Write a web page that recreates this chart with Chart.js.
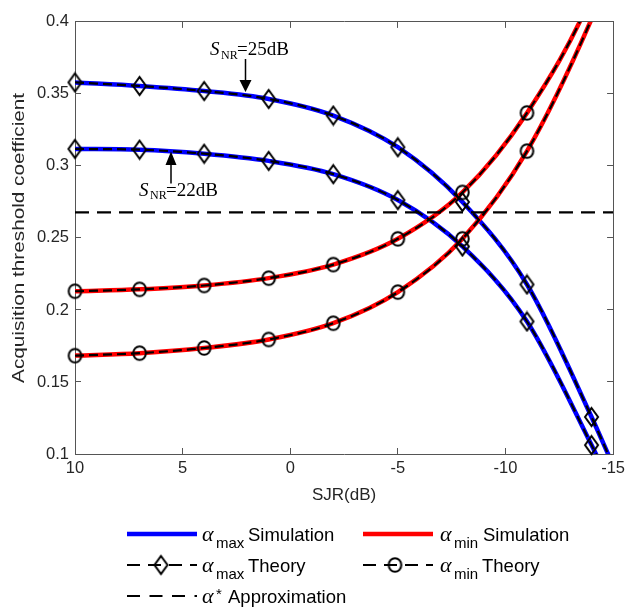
<!DOCTYPE html>
<html lang="en">
<head>
  <meta charset="UTF-8" />
  <title>Acquisition threshold coefficient vs SJR</title>
  <script src="https://cdn.jsdelivr.net/npm/chart.js"></script>
  <style>
body {
  margin: 0;
  background: #ffffff;
}
canvas {
  display: block;
}
  </style>
</head>
<body>
<canvas id="grafico" width="636" height="607"></canvas>

<script>
// SJR sample points (dB); -15 only carries the curves to the axis edge
const sjrDb = [10, 7, 4, 1, -2, -5, -8, -11, -14, -15];

// alpha_max (blue / diamonds) for S_NR = 25 dB and 22 dB
const alphaMax25 = [0.358, 0.3555, 0.352, 0.3465, 0.335, 0.313, 0.275, 0.2177, 0.1257, 0.092];
const alphaMax22 = [0.3118, 0.3113, 0.3085, 0.3035, 0.2943, 0.2763, 0.2441, 0.192, 0.1062, 0.075];

// alpha_min (red / circles)
const alphaMin25 = [0.213, 0.2143, 0.217, 0.2221, 0.2315, 0.2494, 0.2816, 0.3368, 0.418, 0.46];
const alphaMin22 = [0.1683, 0.170, 0.1736, 0.1795, 0.1908, 0.2124, 0.2494, 0.3103, 0.402, 0.44];

// alpha* approximation (horizontal line)
const alphaStar = 0.2678;
const starX = [10, -15];

const xTicks = [10, 5, 0, -5, -10, -15];
const yTicks = [0.1, 0.15, 0.2, 0.25, 0.3, 0.35, 0.4];

const SANS = '"Liberation Sans", Arial, sans-serif';
const SERIF = '"Liberation Serif", "Times New Roman", serif';
const AXIS_COLOR = '#555555';
const TEXT_COLOR = '#262626';

const pts = (vals) => sjrDb.map((x, i) => ({ x, y: vals[i] }));

// marker images (MATLAB-like diamond and circle, hollow)
function makeDiamond() {
  const c = document.createElement('canvas');
  c.width = 17; c.height = 22;
  const g = c.getContext('2d');
  g.strokeStyle = '#000'; g.lineWidth = 2;
  g.beginPath();
  g.moveTo(8.5, 2); g.lineTo(15, 11); g.lineTo(8.5, 20); g.lineTo(2, 11);
  g.closePath(); g.stroke();
  return c;
}
function makeCircle() {
  const c = document.createElement('canvas');
  c.width = 17; c.height = 18;
  const g = c.getContext('2d');
  g.strokeStyle = '#000'; g.lineWidth = 2;
  g.beginPath();
  g.ellipse(8.5, 9, 6.3, 6.8, 0, 0, Math.PI * 2);
  g.stroke();
  return c;
}
const diamondImg = makeDiamond();
const circleImg = makeCircle();

// markers only on theory points that fall inside the axes
const markerRadius = (c) => {
  const v = c.raw ? c.raw.y : NaN;
  return (c.dataIndex < sjrDb.length - 1 && v >= 0.1 && v <= 0.4) ? 7 : 0;
};

function simLine(vals, color) {
  return {
    data: pts(vals),
    borderColor: color,
    borderWidth: 4.5,
    pointRadius: 0,
    cubicInterpolationMode: 'monotone',
    capBezierPoints: false,
    clip: 0
  };
}
function theoryLine(vals) {
  return {
    data: pts(vals),
    borderColor: '#000000',
    borderWidth: 2.2,
    borderDash: [9, 5],
    pointRadius: 0,
    cubicInterpolationMode: 'monotone',
    capBezierPoints: false,
    clip: 0
  };
}
function markerSet(vals, img) {
  return {
    data: pts(vals),
    showLine: false,
    pointStyle: img,
    pointRadius: markerRadius,
    clip: false
  };
}

// box edges and inward ticks come from the scales themselves
const gridIn = {
  display: true,
  drawOnChartArea: false,
  drawTicks: true,
  tickLength: -6,
  color: AXIS_COLOR,
  tickColor: AXIS_COLOR,
  lineWidth: 1
};
const borderOn = { display: true, color: AXIS_COLOR, width: 1 };

function dibujarTextos(chart) {
  const ctx = chart.ctx;
  const a = chart.chartArea;
  ctx.save();
  ctx.fillStyle = TEXT_COLOR;

  // x title
  ctx.font = '17px ' + SANS;
  ctx.textAlign = 'center';
  ctx.textBaseline = 'middle';
  ctx.fillText('SJR(dB)', (a.left + a.right) / 2, 495);

  // y title (stretched to the reference length)
  ctx.save();
  ctx.translate(19, (a.top + a.bottom) / 2);
  ctx.rotate(-Math.PI / 2);
  const yt = 'Acquisition threshold coefficient';
  const w = ctx.measureText(yt).width;
  ctx.scale(290 / w, 1);
  ctx.fillText(yt, 0, 0);
  ctx.restore();

  // S_NR annotations with arrows
  ctx.fillStyle = '#000';
  ctx.textAlign = 'left';
  ctx.textBaseline = 'alphabetic';
  const snr = (x0, base, txt) => {
    ctx.font = 'italic 19px ' + SERIF;
    ctx.fillText('S', x0, base);
    ctx.font = '12px ' + SERIF;
    ctx.fillText('NR', x0 + 11, base + 3.5);
    ctx.font = '19px ' + SERIF;
    ctx.fillText(txt, x0 + 27, base);
  };
  snr(210, 55, '=25dB');
  snr(139, 195.5, '=22dB');

  ctx.strokeStyle = '#000';
  ctx.lineWidth = 1.5;
  ctx.beginPath();
  ctx.moveTo(245.5, 59); ctx.lineTo(245.5, 81);
  ctx.moveTo(171, 164); ctx.lineTo(171, 183.5);
  ctx.stroke();
  ctx.beginPath();
  ctx.moveTo(239.5, 80); ctx.lineTo(251.5, 80); ctx.lineTo(245.5, 92);
  ctx.closePath();
  ctx.moveTo(165.5, 165); ctx.lineTo(176.5, 165); ctx.lineTo(171, 151.5);
  ctx.closePath();
  ctx.fill();

  // legend
  const rows = [534, 565, 596];
  const alphaLabel = (x0, yc, sub, star, rest, restX) => {
    ctx.fillStyle = '#000';
    ctx.font = 'italic 22px ' + SERIF;
    ctx.fillText('\u03b1', x0, yc + 6.5);
    ctx.font = '15px ' + SANS;
    if (star) {
      ctx.fillText('*', x0 + 14, yc + 3);
    } else {
      ctx.fillText(sub, x0 + 14, yc + 14);
    }
    ctx.font = '18.5px ' + SANS;
    ctx.fillText(rest, restX, yc + 6.5);
  };
  const seg = (x1, x2, yc, color, lw, dash) => {
    ctx.save();
    ctx.strokeStyle = color;
    ctx.lineWidth = lw;
    ctx.setLineDash(dash);
    ctx.beginPath();
    ctx.moveTo(x1, yc); ctx.lineTo(x2, yc);
    ctx.stroke();
    ctx.restore();
  };

  seg(127, 197, rows[0], '#0000ff', 4.5, []);
  alphaLabel(202, rows[0], 'max', false, 'Simulation', 248);
  seg(363, 433, rows[0], '#ff0000', 4.5, []);
  alphaLabel(440, rows[0], 'min', false, 'Simulation', 483);

  seg(127, 197, rows[1], '#000', 2.2, [13, 8]);
  ctx.drawImage(diamondImg, 161 - diamondImg.width / 2, rows[1] - diamondImg.height / 2);
  alphaLabel(202, rows[1], 'max', false, 'Theory', 248);
  seg(363, 433, rows[1], '#000', 2.2, [13, 8]);
  ctx.drawImage(circleImg, 395 - circleImg.width / 2, rows[1] - circleImg.height / 2);
  alphaLabel(440, rows[1], 'min', false, 'Theory', 482);

  seg(127, 197, rows[2], '#000', 2.2, [13, 9.5]);
  alphaLabel(202, rows[2], '', true, 'Approximation', 228);

  ctx.restore();
}

const textos = {
  id: 'textos',
  afterDraw(chart) {
    dibujarTextos(chart);
  }
};

new Chart(document.getElementById('grafico').getContext('2d'), {
  type: 'line',
  data: {
    datasets: [
      markerSet(alphaMax25, diamondImg),
      markerSet(alphaMax22, diamondImg),
      markerSet(alphaMin25, circleImg),
      markerSet(alphaMin22, circleImg),
      theoryLine(alphaMax25),
      theoryLine(alphaMax22),
      theoryLine(alphaMin25),
      theoryLine(alphaMin22),
      {
        data: starX.map(x => ({ x, y: alphaStar })),
        borderColor: '#000000',
        borderWidth: 2.2,
        borderDash: [14, 8],
        pointRadius: 0,
        clip: 0
      },
      simLine(alphaMin25, '#ff0000'),
      simLine(alphaMin22, '#ff0000'),
      simLine(alphaMax25, '#0000ff'),
      simLine(alphaMax22, '#0000ff')
    ]
  },
  options: {
    responsive: false,
    animation: false,
    devicePixelRatio: 1,
    layout: { padding: { left: 0, right: 15, top: 19, bottom: 0 } },
    plugins: {
      legend: { display: false },
      tooltip: { enabled: false }
    },
    scales: {
      x: {
        type: 'linear',
        position: 'bottom',
        reverse: true,
        min: -15,
        max: 10,
        afterFit: (s) => { s.height = 153; },
        afterBuildTicks: (s) => { s.ticks = xTicks.map(v => ({ value: v })); },
        ticks: {
          color: TEXT_COLOR,
          font: { family: SANS, size: 16.5 },
          padding: 11,
          autoSkip: false,
          maxRotation: 0,
          callback: (v) => String(v)
        },
        grid: gridIn,
        border: borderOn
      },
      x2: {
        type: 'linear',
        position: 'top',
        reverse: true,
        min: -15,
        max: 10,
        afterFit: (s) => { s.height = 0; },
        afterBuildTicks: (s) => { s.ticks = xTicks.map(v => ({ value: v })); },
        ticks: { display: false },
        grid: gridIn,
        border: borderOn
      },
      y: {
        type: 'linear',
        position: 'left',
        min: 0.1,
        max: 0.4,
        afterFit: (s) => { s.width = 75; },
        afterBuildTicks: (s) => { s.ticks = yTicks.map(v => ({ value: v })); },
        ticks: {
          color: TEXT_COLOR,
          font: { family: SANS, size: 16.5 },
          padding: 12,
          autoSkip: false,
          callback: (v) => String(+v.toFixed(2))
        },
        grid: gridIn,
        border: borderOn
      },
      y2: {
        type: 'linear',
        position: 'right',
        min: 0.1,
        max: 0.4,
        afterFit: (s) => { s.width = 0; },
        afterBuildTicks: (s) => { s.ticks = yTicks.map(v => ({ value: v })); },
        ticks: { display: false },
        grid: gridIn,
        border: borderOn
      }
    }
  },
  plugins: [textos]
});
</script>

</body>
</html>
